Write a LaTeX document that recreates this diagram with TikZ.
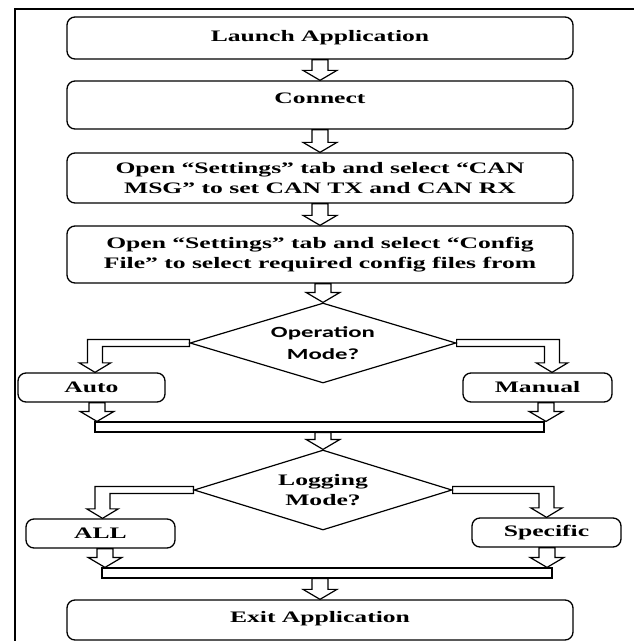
\documentclass[tikz,border=0pt]{standalone}
\usepackage{fontspec}
\setmainfont{Liberation Serif}[FakeStretch=1.6]
\newfontfamily\opfont{Carlito}[FakeStretch=1.6]
\usetikzlibrary{shapes.geometric,calc}
\tikzset{
  stepbox/.style={draw,line width=1.3pt,rounded corners=8pt,inner sep=0pt,align=center,
    font=\bfseries\fontsize{16}{20}\selectfont},
  choice/.style={draw,diamond,aspect=3.3,line width=1.2pt,inner sep=0pt,align=center,
    font=\bfseries\fontsize{16}{20}\selectfont},
  bar/.style={draw,line width=1.2pt,inner sep=0pt,minimum height=10pt},
  blk/.style={draw,line width=1.2pt,line join=miter},
}
% hollow arrow straight down, tip at #2
\newcommand{\fatdown}[2]{%
  \draw[blk] let \p1=#1, \p2=#2 in
    (\x2-8pt,\y1)--(\x2-8pt,\y2+10pt)--(\x2-17pt,\y2+10pt)--(\x2,\y2)
    --(\x2+17pt,\y2+10pt)--(\x2+8pt,\y2+10pt)--(\x2+8pt,\y1)--cycle;}
% hollow arrow sideways from #1 then down to #2, #3 = signed half width
\newcommand{\fatelbow}[3]{%
  \draw[blk] let \p1=#1, \p2=#2, \n1={#3}, \n2={2.1*#3} in
    (\x1,\y1+3.5pt)--({\x2+\n1},\y1+3.5pt)--({\x2+\n1},\y2+9.5pt)--({\x2+\n2},\y2+9.5pt)--(\x2,\y2)
    --({\x2-\n2},\y2+9.5pt)--({\x2-\n1},\y2+9.5pt)--({\x2-\n1},\y1-3.5pt)--(\x1,\y1-3.5pt)--cycle;}
\begin{document}
\begin{tikzpicture}[x=1pt,y=-1pt]
\useasboundingbox (0,0) rectangle (634,641);
\draw[line width=1.5pt](15,641)--(15,9)--(634,9);
%
\node[stepbox,minimum width=506pt,minimum height=42pt](launch) at (320,38){Launch Application};
\node[stepbox,minimum width=506pt,minimum height=48pt,text height=11pt,text depth=14pt](connect) at (320,105){Connect};
\node[stepbox,minimum width=506pt,minimum height=50pt](canmsg) at (320,178){Open “Settings” tab and select “CAN\\MSG” to set CAN TX and CAN RX};
\node[stepbox,minimum width=506pt,minimum height=57pt](config) at (320,254.5){Open “Settings” tab and select “Config\\File” to select required config files from};
%
\node[choice,minimum width=266pt,minimum height=80pt,font=\opfont\bfseries\fontsize{15.5}{22}\selectfont](opmode) at (323,343){Operation\\Mode?};
\node[stepbox,minimum width=147pt,minimum height=29pt](auto) at (91.5,387.5){Auto};
\node[stepbox,minimum width=149pt,minimum height=29pt](manual) at (537.5,387.5){Manual};
\node[bar,minimum width=449pt](bar1) at (319.5,427){};
%
\node[choice,minimum width=258pt,minimum height=80pt](logmode) at (323,490){Logging\\Mode?};
\node[stepbox,minimum width=149pt,minimum height=29pt](all) at (100.5,533.5){ALL};
\node[stepbox,minimum width=149pt,minimum height=29pt](specific) at (546.5,532.5){Specific};
\node[bar,minimum width=450pt](bar2) at (327,573){};
%
\node[stepbox,minimum width=506pt,minimum height=40pt,text height=11pt,text depth=6pt](exit) at (320,620){Exit Application};
%
\fatdown{(launch.south)}{(connect.north)}
\fatdown{(connect.south)}{(canmsg.north)}
\fatdown{(canmsg.south)}{(config.north)}
\fatdown{(config.south)}{(opmode.north)}
%
\coordinate(autoin) at ([xshift=3.5pt]auto.north);
\coordinate(manualin) at ([xshift=14.5pt]manual.north);
\fatelbow{(opmode.west)}{(autoin)}{-7.5}
\fatelbow{(opmode.east)}{(manualin)}{7.5}
\coordinate(autoout) at ([xshift=5.5pt]auto.south);
\coordinate(manualout) at ([xshift=8.5pt]manual.south);
\fatdown{(autoout)}{(autoout|-bar1.north)}
\fatdown{(manualout)}{(manualout|-bar1.north)}
\fatdown{(bar1.south)}{(logmode.north)}
%
\coordinate(allin) at ([xshift=2pt]all.north);
\fatelbow{(logmode.west)}{(allin)}{-7.5}
\fatelbow{(logmode.east)}{(specific.north)}{7.5}
\coordinate(allout) at ([xshift=4.5pt]all.south);
\coordinate(specificout) at ([xshift=0.5pt]specific.south);
\fatdown{(allout)}{(allout|-bar2.north)}
\fatdown{(specificout)}{(specificout|-bar2.north)}
\fatdown{(bar2.south -| exit.north)}{(exit.north)}
\end{tikzpicture}
\end{document}
